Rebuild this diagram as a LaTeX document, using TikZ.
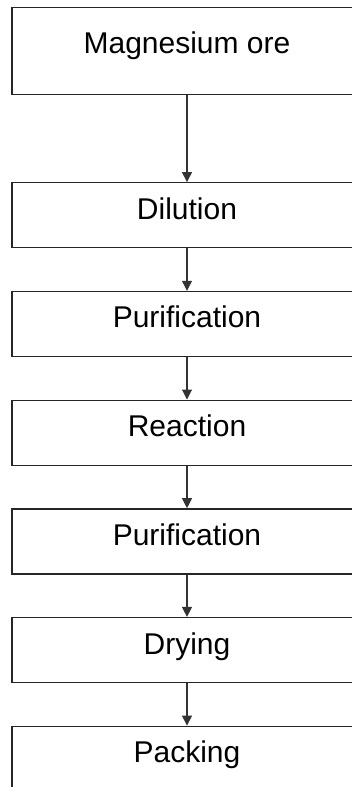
\documentclass[tikz,border=0pt]{standalone}
\usepackage{fontspec}
\setmainfont{Liberation Sans}
\usetikzlibrary{positioning,arrows.meta}
\tikzset{
	stage/.style = { rectangle, draw=black!85, line width=1.3pt, minimum width=350pt, inner sep=0pt, text height=36.5pt, text depth=28.5pt, font=\fontsize{30}{36}\selectfont },
	src/.style = { stage, text height=46pt, text depth=41pt },
	flow/.style = { -{Triangle[width=10pt,length=10pt]}, line width=1.1pt, draw=black!80 },
}
\begin{document}
\begin{tikzpicture}[node distance=42.4pt]
\path[use as bounding box, clip] (0,0) rectangle (352pt,-787pt);

\node (ore)  [src,anchor=north] at (187pt,-7pt) {Magnesium ore};
\node (dil)  [stage,below=86.8pt of ore] {Dilution};
\node (pur)  [stage,below=of dil]  {Purification};
\node (rea)  [stage,below=of pur]  {Reaction};
\node (pur2) [stage,below=of rea]  {Purification};
\node (dry)  [stage,below=of pur2] {Drying};
\node (pck)  [stage,below=of dry]  {Packing};

\draw[flow] (ore)  -- (dil);
\draw[flow] (dil)  -- (pur);
\draw[flow] (pur)  -- (rea);
\draw[flow] (rea)  -- (pur2);
\draw[flow] (pur2) -- (dry);
\draw[flow] (dry)  -- (pck);

\end{tikzpicture}
\end{document}
